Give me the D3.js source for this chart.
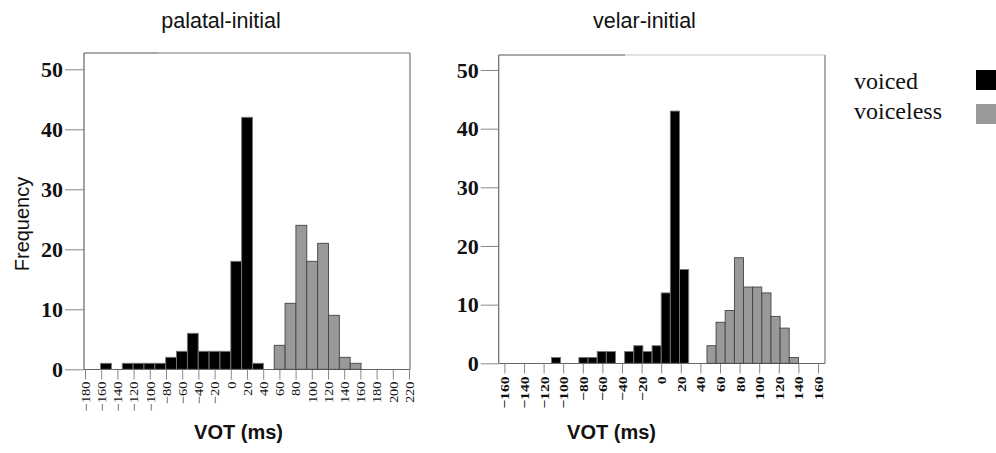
<!DOCTYPE html>
<html>
<head>
<meta charset="utf-8">
<script src="https://cdn.jsdelivr.net/npm/d3@7"></script>
<style>
  body { margin: 0; background: #fff; }
  svg { display: block; }
</style>
</head>
<body>
<div id="chart"></div>
<script>
// palatal-initial: bin starts (ms) and counts, bin width 13.4 ms
const palatalBinWidth = 13.4;
const palatalVoicedStarts = [-160.8, -134, -120.6, -107.2, -93.8, -80.4, -67, -53.6, -40.2, -26.8, -13.4, 0, 13.4, 26.8];
const palatalVoicedCounts = [1, 1, 1, 1, 1, 2, 3, 6, 3, 3, 3, 18, 42, 1];
const palatalVoicelessStarts = [53.6, 67, 80.4, 93.8, 107.2, 120.6, 134, 147.4];
const palatalVoicelessCounts = [4, 11, 24, 18, 21, 9, 2, 1];
const palatalTicks = [-180, -160, -140, -120, -100, -80, -60, -40, -20, 0, 20, 40, 60, 80, 100, 120, 140, 160, 180, 200, 220];

// velar-initial: bin width 9.33 ms
const velarBinWidth = 9.33;
const velarVoicedStarts = [-112, -84, -74.7, -65.3, -56, -37.3, -28, -18.7, -9.3, 0, 9.3, 18.7];
const velarVoicedCounts = [1, 1, 1, 2, 2, 2, 3, 2, 3, 12, 43, 16];
const velarVoicelessStarts = [46.7, 56, 65.3, 74.7, 84, 93.3, 102.7, 112, 121.3, 130.7];
const velarVoicelessCounts = [3, 7, 9, 18, 13, 13, 12, 8, 6, 1];
const velarTicks = [-160, -140, -120, -100, -80, -60, -40, -20, 0, 20, 40, 60, 80, 100, 120, 140, 160];

const yTicks = [0, 10, 20, 30, 40, 50];
const legendLabels = ["voiced", "voiceless"];
const legendColors = ["#000", "#999"];

const W = 996, H = 453;
const svg = d3.select("#chart").append("svg")
  .attr("width", W).attr("height", H)
  .attr("viewBox", `0 0 ${W} ${H}`);

function drawPanel(cfg) {
  const g = svg.append("g");

  // scales
  const x = d3.scaleLinear().domain([cfg.ticks[0], cfg.ticks[cfg.ticks.length - 1]]).range(cfg.xRange);
  const y = d3.scaleLinear().domain([0, 50]).range(cfg.yRange);

  // frame
  const b = cfg.box;
  g.append("line").attr("x1", b.left).attr("x2", b.left).attr("y1", b.top).attr("y2", b.bottom)
    .attr("stroke", "#666").attr("stroke-width", 1.2);
  g.append("line").attr("x1", b.right).attr("x2", b.right).attr("y1", b.top).attr("y2", b.bottom)
    .attr("stroke", "#777").attr("stroke-width", 1.2);
  g.append("line").attr("x1", b.left).attr("x2", b.right).attr("y1", b.bottom).attr("y2", b.bottom)
    .attr("stroke", "#666").attr("stroke-width", 1.2);
  g.append("line").attr("x1", b.left).attr("x2", b.topSplit).attr("y1", b.top).attr("y2", b.top)
    .attr("stroke", "#555").attr("stroke-width", 1.2);
  g.append("line").attr("x1", b.topSplit).attr("x2", b.right).attr("y1", b.top).attr("y2", b.top)
    .attr("stroke", cfg.topRest).attr("stroke-width", 1.2);

  // y axis
  const yAxis = g.append("g")
    .attr("transform", `translate(${b.left},0)`)
    .call(d3.axisLeft(y).tickValues(yTicks).tickSize(cfg.yTickSize).tickPadding(2).tickFormat(d3.format("d")));
  yAxis.select(".domain").remove();
  yAxis.selectAll(".tick line").attr("stroke", "#888");
  yAxis.selectAll(".tick text")
    .attr("fill", "#111")
    .style("font-family", "'Liberation Serif', 'DejaVu Serif', serif")
    .style("font-size", "22px")
    .style("font-weight", "bold");

  // x axis
  const xAxis = g.append("g")
    .attr("transform", `translate(0,${b.bottom})`)
    .call(d3.axisBottom(x).tickValues(cfg.ticks).tickSize(10));
  xAxis.select(".domain").remove();
  xAxis.selectAll(".tick line").attr("stroke", "#888");
  xAxis.selectAll(".tick text")
    .attr("x", 0).attr("y", 0).attr("dy", "0.35em")
    .attr("transform", `translate(0,${cfg.labelTop}) rotate(-90) scale(${cfg.labelStretch},1)`)
    .attr("fill", "#111")
    .style("text-anchor", "end")
    .style("font-family", "'Liberation Serif', 'DejaVu Serif', serif")
    .style("font-size", cfg.labelSize + "px")
    .style("font-weight", cfg.labelWeight);

  // bars
  const series = [
    { starts: cfg.voicedStarts, counts: cfg.voicedCounts, fill: legendColors[0], stroke: "#777" },
    { starts: cfg.voicelessStarts, counts: cfg.voicelessCounts, fill: legendColors[1], stroke: "#444" }
  ];
  series.forEach(s => {
    const bins = s.starts.map((v, i) => ({ x0: v, x1: v + cfg.binWidth, n: s.counts[i] }));
    g.append("g").selectAll("rect")
      .data(bins)
      .join("rect")
      .attr("x", d => x(d.x0))
      .attr("width", d => x(d.x1) - x(d.x0))
      .attr("y", d => y(d.n))
      .attr("height", d => y(0) - y(d.n))
      .attr("fill", s.fill)
      .attr("stroke", s.stroke)
      .attr("stroke-width", 0.9);
  });

  // title
  svg.append("text")
    .attr("x", cfg.titleX).attr("y", 27.5)
    .attr("text-anchor", "middle")
    .style("font-family", "'Liberation Sans', Arial, sans-serif")
    .style("font-size", "21.5px")
    .attr("fill", "#111")
    .text(cfg.title);

  // x label
  svg.append("text")
    .attr("x", cfg.xLabelX).attr("y", 439)
    .attr("text-anchor", "middle")
    .style("font-family", "'Liberation Sans', Arial, sans-serif")
    .style("font-size", "20px")
    .style("font-weight", "bold")
    .attr("fill", "#111")
    .text("VOT (ms)");
}

drawPanel({
  title: "palatal-initial", titleX: 221, xLabelX: 238.5,
  ticks: palatalTicks, xRange: [85, 409], yRange: [369.3, 69.3],
  box: { left: 84, right: 410, top: 53, bottom: 369.5, topSplit: 158 }, topRest: "#777",
  yTickSize: 19, labelTop: 12, labelSize: 12, labelStretch: 1.2, labelWeight: "normal",
  binWidth: palatalBinWidth,
  voicedStarts: palatalVoicedStarts, voicedCounts: palatalVoicedCounts,
  voicelessStarts: palatalVoicelessStarts, voicelessCounts: palatalVoicelessCounts
});

drawPanel({
  title: "velar-initial", titleX: 644.5, xLabelX: 611.5,
  ticks: velarTicks, xRange: [504.4, 818], yRange: [363.3, 70],
  box: { left: 498.7, right: 825, top: 55, bottom: 363.5, topSplit: 625 }, topRest: "#c8c8c8",
  yTickSize: 18, labelTop: 13, labelSize: 13, labelStretch: 1.2, labelWeight: "bold",
  binWidth: velarBinWidth,
  voicedStarts: velarVoicedStarts, voicedCounts: velarVoicedCounts,
  voicelessStarts: velarVoicelessStarts, voicelessCounts: velarVoicelessCounts
});

// y axis title
svg.append("text")
  .attr("transform", "translate(29,224) rotate(-90)")
  .attr("text-anchor", "middle")
  .style("font-family", "'Liberation Sans', Arial, sans-serif")
  .style("font-size", "20px")
  .attr("fill", "#111")
  .text("Frequency");

// legend
const legend = svg.append("g");
legendLabels.forEach((lab, i) => {
  legend.append("text")
    .attr("x", 854).attr("y", 89 + i * 30)
    .style("font-family", "'Liberation Serif', 'Times New Roman', serif")
    .style("font-size", "24px")
    .attr("fill", "#111")
    .text(lab);
  legend.append("rect")
    .attr("x", 976).attr("y", 70 + i * 34)
    .attr("width", 22).attr("height", 20)
    .attr("fill", legendColors[i]);
});
</script>
</body>
</html>
